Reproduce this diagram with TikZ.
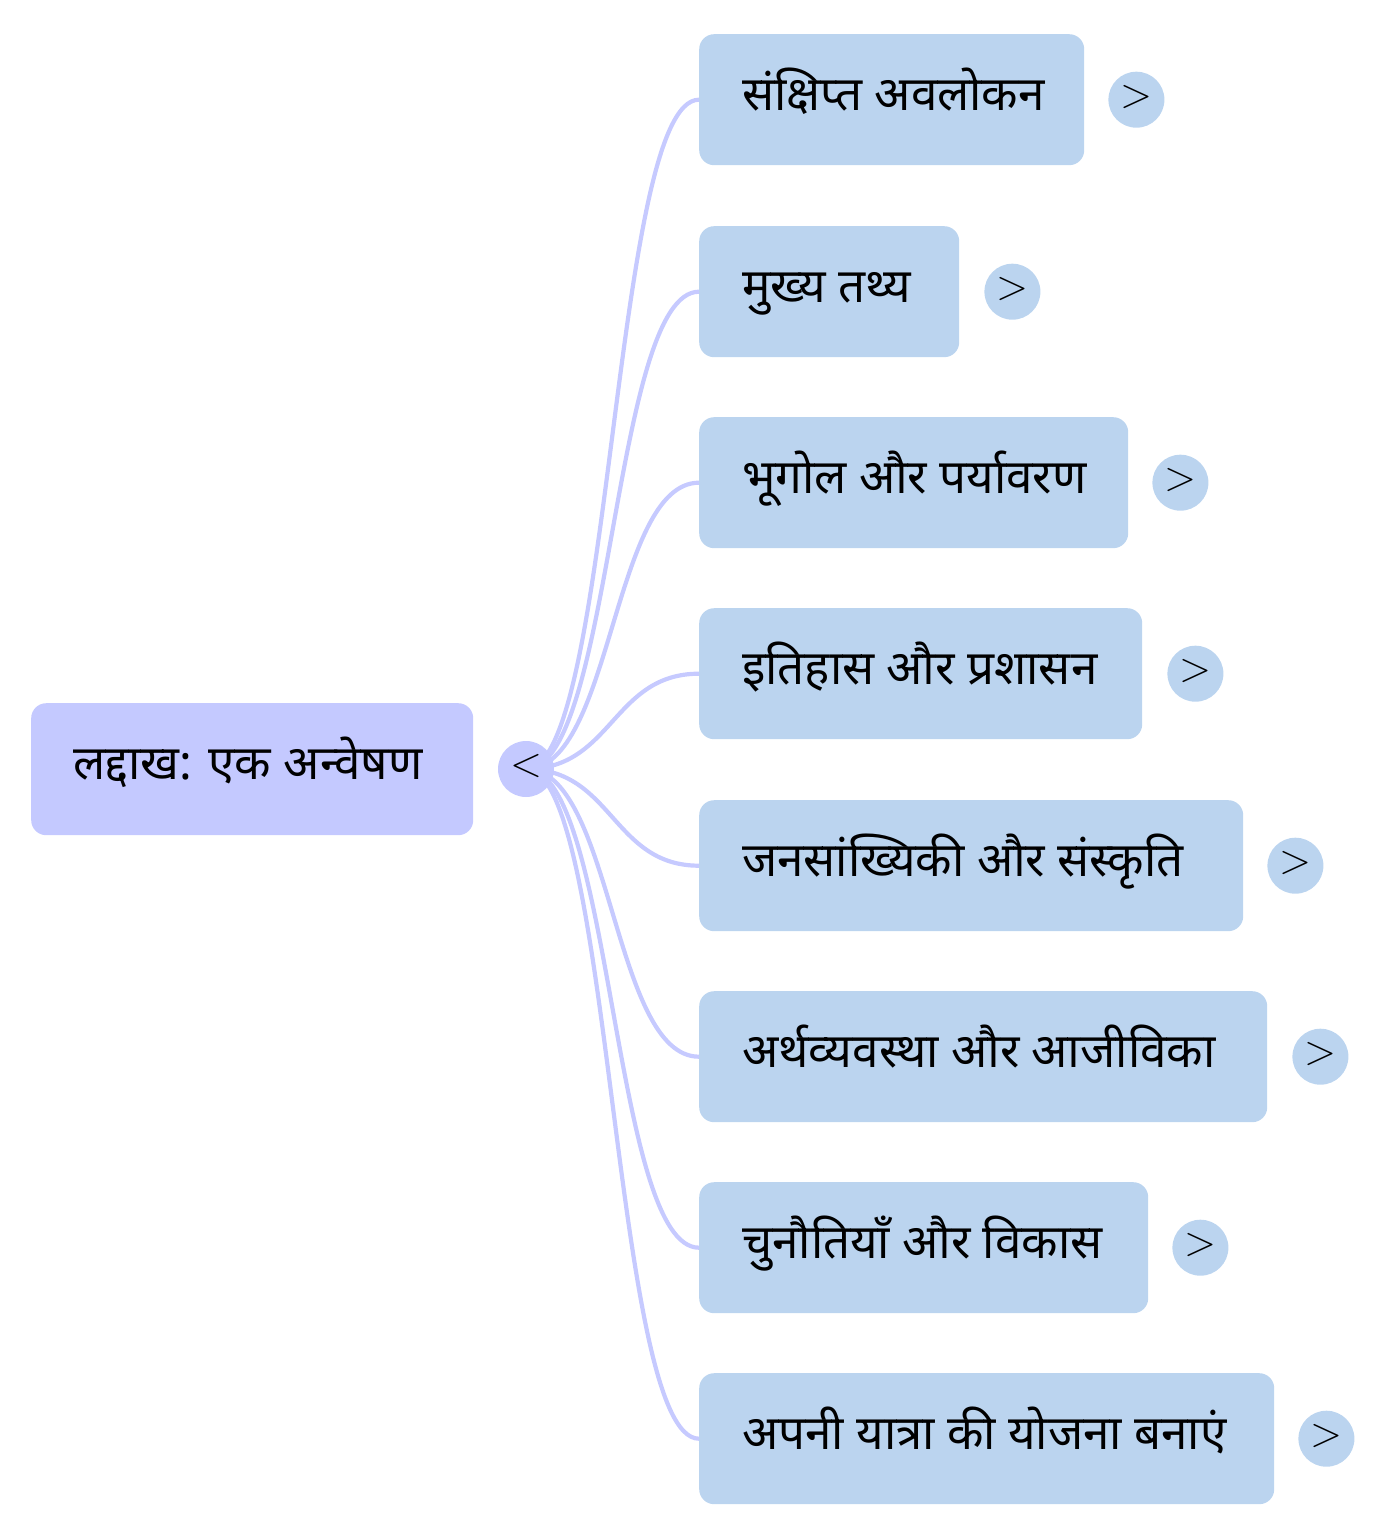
\documentclass[tikz,border=0pt]{standalone}
\usepackage{fontspec}
\newfontfamily\dev[Script=Devanagari]{Noto Sans}
\definecolor{rootc}{HTML}{C4C9FF}
\definecolor{kidc}{HTML}{BBD4EF}
\definecolor{linec}{HTML}{C6CAFF}
\begin{document}
\begin{tikzpicture}[x=1pt,y=-1pt,
  rootbox/.style={fill=rootc, draw=none, rounded corners=15pt, inner sep=0pt, anchor=north west},
  kidbox/.style={fill=kidc, draw=none, rounded corners=15pt, inner sep=0pt, anchor=north west, minimum height=131pt},
  txt/.style={anchor=base west, inner sep=0pt, font=\dev\fontsize{47.5}{56}\selectfont, text=black},
  rootdot/.style={circle, fill=rootc, minimum size=56pt, inner sep=0pt},
  kiddot/.style={circle, fill=kidc, minimum size=56pt, inner sep=0pt},
  sym/.style={inner sep=0pt, font=\fontsize{42}{42}\selectfont},
  link/.style={draw=linec, line width=4.2pt}
]
\useasboundingbox (0,0) rectangle (1386,1538);

% root
\node[rootbox, minimum width=442pt, minimum height=132pt] (root) at (31,703) {};
\node[txt] (roottxt) at (73,779) {लद्दाख: एक अन्वेषण};

% children boxes
\node[kidbox, minimum width=385pt] (k1) at (699,34) {};
\node[kidbox, minimum width=260pt] (k2) at (699,226) {};
\node[kidbox, minimum width=429pt] (k3) at (699,417) {};
\node[kidbox, minimum width=443pt] (k4) at (699,608) {};
\node[kidbox, minimum width=544pt] (k5) at (699,800) {};
\node[kidbox, minimum width=568pt] (k6) at (699,991) {};
\node[kidbox, minimum width=449pt] (k7) at (699,1182) {};
\node[kidbox, minimum width=575pt] (k8) at (699,1373) {};

% connectors
\coordinate (hub) at (526,769);
\foreach \k in {k1,k2,k3,k4,k5,k6,k7,k8}{
  \draw[link] (hub) .. controls +(86.5,0) and +(-86.5,0) .. (\k.west);
}

% root collapse dot
\node[rootdot] (rd) at (hub) {};
\node[sym] (rds) at ([yshift=3pt]rd.center) {<};

% texts
\node[txt] (t1) at (742,111) {संक्षिप्त अवलोकन};
\node[txt] (t2) at (742,302) {मुख्य तथ्य};
\node[txt] (t3) at (742,493) {भूगोल और पर्यावरण};
\node[txt] (t4) at (742,684) {इतिहास और प्रशासन};
\node[txt] (t5) at (742,876) {जनसांख्यिकी और संस्कृति};
\node[txt] (t6) at (742,1067) {अर्थव्यवस्था और आजीविका};
\node[txt] (t7) at (742,1258) {चुनौतियाँ और विकास};
\node[txt] (t8) at (742,1449) {अपनी यात्रा की योजना बनाएं};

% expand dots
\node[kiddot] (d1) at ([xshift=52pt]k1.east) {};
\node[kiddot] (d2) at ([xshift=53pt]k2.east) {};
\node[kiddot] (d3) at ([xshift=52pt]k3.east) {};
\node[kiddot] (d4) at ([xshift=53pt]k4.east) {};
\node[kiddot] (d5) at ([xshift=52pt]k5.east) {};
\node[kiddot] (d6) at ([xshift=53pt]k6.east) {};
\node[kiddot] (d7) at ([xshift=52pt]k7.east) {};
\node[kiddot] (d8) at ([xshift=52pt]k8.east) {};
\foreach \d in {d1,d2,d3,d4,d5,d6,d7,d8}{
  \node[sym] at ([yshift=3pt]\d.center) {>};
}
\end{tikzpicture}
\end{document}
